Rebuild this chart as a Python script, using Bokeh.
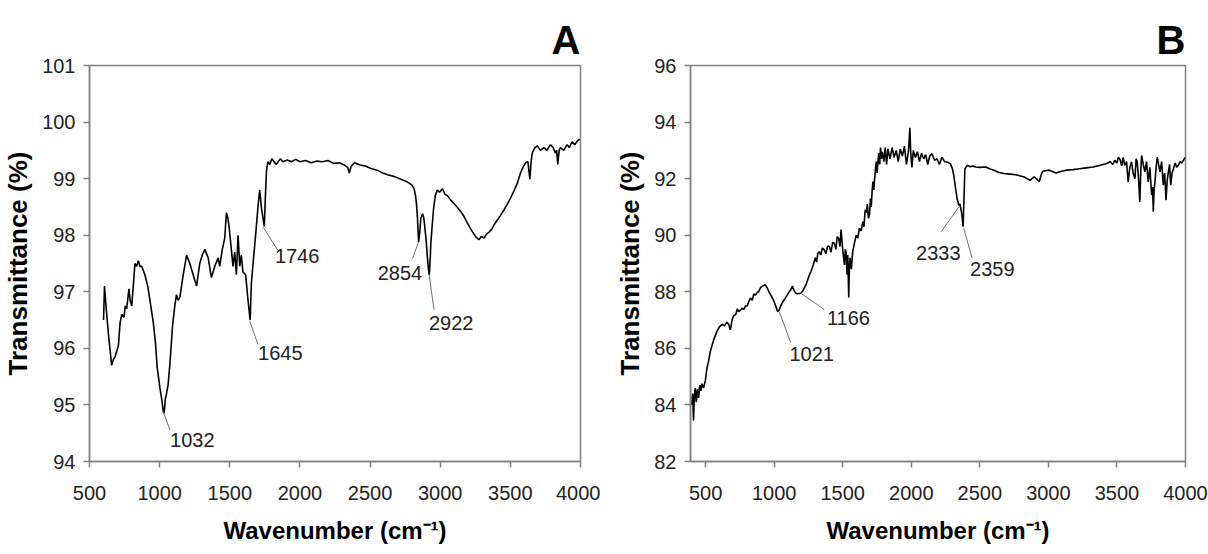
from bokeh.plotting import figure
from bokeh.layouts import row
from bokeh.models import FixedTicker, Range1d, ColumnDataSource
from bokeh.core.properties import value
from bokeh.embed import file_html
from bokeh.resources import INLINE

# ---------------- Panel A data ----------------
a_wavenumber = [600, 607, 616, 635, 658, 670, 682, 694, 706, 718, 730, 746, 755, 765, 781, 790, 801, 812,
                824, 836, 848, 860, 872, 895, 915, 931, 955, 970, 983, 1002, 1015, 1026, 1032, 1040, 1049,
                1060, 1073, 1092, 1108, 1120, 1132, 1144, 1168, 1192, 1215, 1239, 1263, 1286, 1304, 1322,
                1346, 1369, 1393, 1417, 1428, 1447, 1464, 1476, 1486, 1495, 1511, 1523, 1535, 1547, 1559,
                1571, 1582, 1594, 1613, 1630, 1645, 1654, 1666, 1684, 1701, 1713, 1725, 1737, 1746, 1754,
                1762, 1772, 1784, 1800, 1831, 1860, 1879, 1910, 1938, 1970, 2000, 2040, 2080, 2120, 2160,
                2200, 2240, 2280, 2317, 2340, 2352, 2365, 2388, 2430, 2470, 2506, 2550, 2590, 2625, 2670,
                2720, 2750, 2779, 2800, 2814, 2824, 2831, 2838, 2846, 2854, 2862, 2874, 2882, 2890, 2900,
                2909, 2916, 2922, 2928, 2933, 2942, 2952, 2965, 2980, 2995, 3016, 3035, 3051, 3075, 3098,
                3120, 3146, 3170, 3193, 3215, 3240, 3258, 3276, 3294, 3312, 3330, 3347, 3365, 3383, 3405,
                3430, 3455, 3478, 3500, 3525, 3550, 3572, 3590, 3608, 3625, 3639, 3648, 3656, 3675, 3691,
                3715, 3738, 3760, 3786, 3805, 3821, 3830, 3838, 3848, 3857, 3880, 3904, 3920, 3940, 3960,
                3975, 3994]
a_transmittance = [96.5, 97.1, 96.8, 96.25, 95.7, 95.8, 95.85, 95.95, 96.05, 96.45, 96.6, 96.55, 96.75, 96.7,
                   97.05, 96.85, 96.75, 97.1, 97.5, 97.45, 97.55, 97.45, 97.45, 97.3, 97.1, 96.85, 96.45,
                   96.1, 95.65, 95.3, 95.1, 94.88, 94.85, 95.1, 95.2, 95.35, 95.72, 96.4, 96.75, 96.95,
                   96.85, 96.9, 97.3, 97.65, 97.5, 97.3, 97.1, 97.5, 97.65, 97.75, 97.6, 97.25, 97.45,
                   97.6, 97.45, 97.75, 97.95, 98.4, 98.3, 98.15, 97.75, 97.45, 97.7, 97.3, 98.0, 97.45,
                   97.65, 97.35, 97.3, 96.85, 96.5, 97.15, 97.5, 98.0, 98.5, 98.8, 98.5, 98.3, 98.15,
                   98.7, 99.15, 99.3, 99.25, 99.35, 99.25, 99.35, 99.3, 99.33, 99.3, 99.34, 99.3, 99.32,
                   99.28, 99.31, 99.3, 99.32, 99.27, 99.28, 99.24, 99.2, 99.1, 99.22, 99.28, 99.24, 99.22,
                   99.18, 99.15, 99.1, 99.07, 99.04, 98.99, 98.96, 98.92, 98.88, 98.82, 98.7, 98.55, 98.3,
                   97.88, 98.05, 98.3, 98.38, 98.32, 98.15, 97.9, 97.6, 97.4, 97.3, 97.55, 97.85, 98.15,
                   98.45, 98.7, 98.8, 98.76, 98.82, 98.72, 98.7, 98.62, 98.56, 98.5, 98.42, 98.33, 98.22,
                   98.12, 98.02, 97.96, 97.92, 97.98, 97.95, 98.02, 98.05, 98.1, 98.18, 98.26, 98.35,
                   98.45, 98.55, 98.65, 98.78, 98.92, 99.1, 99.2, 99.28, 99.3, 98.99, 99.3, 99.45, 99.55,
                   99.58, 99.5, 99.55, 99.5, 99.6, 99.55, 99.45, 99.5, 99.25, 99.5, 99.55, 99.5, 99.6,
                   99.55, 99.65, 99.6, 99.66, 99.7]
a_x_ticks = [500, 1000, 1500, 2000, 2500, 3000, 3500, 4000]
a_y_ticks = [94, 95, 96, 97, 98, 99, 100, 101]
a_peak_labels = ["1032", "1645", "1746", "2854", "2922"]
a_peak_x = [1026, 1642, 1739, 2845, 2921]
a_peak_y = [94.88, 96.48, 98.14, 97.88, 97.30]
a_lead_x = [1073, 1701, 1843, 2803, 2956]
a_lead_y = [94.56, 96.07, 97.73, 97.59, 96.68]
a_text_x = [1233, 1860, 1980, 2713, 3078]
a_text_y = [94.38, 95.91, 97.63, 97.33, 96.45]

# ---------------- Panel B data ----------------
b_wavenumber = [400, 406, 412, 418, 424, 432, 440, 449, 458, 466, 473, 485, 498, 510, 522, 535, 547, 559,
                571, 583, 600, 620, 638, 656, 668, 681, 693, 705, 720, 732, 742, 754, 766, 780, 791, 803,
                815, 828, 840, 852, 864, 876, 888, 901, 915, 933, 948, 962, 980, 999, 1015, 1025, 1036,
                1048, 1060, 1078, 1097, 1110, 1121, 1133, 1145, 1158, 1170, 1195, 1212, 1232, 1250, 1268,
                1285, 1300, 1310, 1318, 1329, 1340, 1352, 1366, 1378, 1390, 1403, 1415, 1427, 1439, 1450,
                1460, 1471, 1480, 1488, 1494, 1500, 1507, 1513, 1519, 1525, 1532, 1537, 1544, 1549, 1554,
                1563, 1573, 1585, 1598, 1610, 1622, 1635, 1647, 1655, 1664, 1672, 1680, 1688, 1696, 1702,
                1708, 1715, 1720, 1727, 1733, 1740, 1745, 1751, 1757, 1763, 1770, 1776, 1782, 1790, 1800,
                1810, 1820, 1830, 1845, 1860, 1875, 1890, 1905, 1920, 1935, 1950, 1965, 1980, 1990, 1996,
                2005, 2015, 2030, 2045, 2060, 2075, 2090, 2105, 2120, 2135, 2151, 2170, 2188, 2205, 2224,
                2243, 2261, 2285, 2300, 2310, 2322, 2334, 2347, 2354, 2366, 2372, 2378, 2384, 2391, 2408,
                2430, 2450, 2469, 2500, 2543, 2570, 2604, 2640, 2677, 2720, 2762, 2790, 2824, 2845, 2865,
                2880, 2897, 2915, 2934, 2945, 2958, 2980, 3007, 3030, 3056, 3090, 3129, 3180, 3227, 3275,
                3325, 3375, 3423, 3450, 3470, 3484, 3500, 3510, 3521, 3535, 3545, 3557, 3570, 3582, 3594,
                3606, 3618, 3631, 3640, 3648, 3656, 3667, 3674, 3680, 3692, 3704, 3716, 3728, 3740, 3753,
                3760, 3765, 3771, 3777, 3786, 3794, 3804, 3814, 3826, 3838, 3848, 3858, 3866, 3875, 3884,
                3892, 3902, 3912, 3925, 3936, 3948, 3960, 3972, 3985, 3998]
b_transmittance = [84.0, 84.4, 83.45, 84.3, 84.6, 84.1, 84.55, 84.25, 84.7, 84.5, 84.75, 84.6, 84.85, 85.3,
                   85.55, 85.9, 86.1, 86.3, 86.45, 86.6, 86.75, 86.85, 86.8, 86.92, 86.85, 86.65, 87.0,
                   87.15, 87.2, 87.4, 87.3, 87.35, 87.42, 87.38, 87.5, 87.5, 87.65, 87.78, 87.7, 87.92,
                   87.88, 87.98, 88.0, 88.15, 88.2, 88.25, 88.15, 88.0, 87.85, 87.66, 87.45, 87.3, 87.35,
                   87.5, 87.62, 87.75, 87.9, 88.0, 88.07, 88.2, 88.05, 87.95, 87.93, 87.95, 88.05, 88.25,
                   88.5, 88.72, 88.95, 89.2, 89.05, 89.35, 89.42, 89.3, 89.55, 89.48, 89.35, 89.62, 89.6,
                   89.4, 89.75, 89.72, 89.5, 89.95, 89.88, 89.6, 90.2, 89.85, 89.5, 89.2, 88.95, 89.5,
                   89.4, 88.6, 89.3, 87.8, 88.9, 89.2, 88.8, 89.42, 89.7, 90.0, 89.9, 90.25, 90.15, 90.48,
                   90.3, 90.9, 90.8, 91.1, 90.6, 90.75, 91.3, 91.0, 91.6, 91.9, 91.6, 92.0, 92.4, 92.6,
                   92.2, 92.6, 92.9, 92.5, 93.1, 92.7, 92.95, 92.6, 93.1, 92.5, 93.05, 92.7, 93.1, 92.75,
                   93.0, 92.6, 93.05, 92.8, 93.15, 92.5, 93.0, 93.8, 92.9, 92.4, 93.0, 92.75, 92.95, 92.6,
                   92.9, 92.7, 92.85, 92.5, 92.8, 92.88, 92.65, 92.7, 92.5, 92.76, 92.6, 92.59, 92.53,
                   92.35, 92.12, 91.7, 91.3, 91.05, 91.12, 90.83, 90.6, 90.3, 91.2, 92.35, 92.47, 92.42,
                   92.45, 92.41, 92.4, 92.41, 92.35, 92.3, 92.22, 92.18, 92.16, 92.14, 92.1, 92.06, 92.0,
                   91.94, 92.0, 92.06, 91.98, 91.9, 92.1, 92.26, 92.28, 92.3, 92.25, 92.2, 92.25, 92.3,
                   92.32, 92.35, 92.38, 92.41, 92.47, 92.53, 92.6, 92.5, 92.65, 92.55, 92.75, 92.7, 92.45,
                   92.75, 92.47, 92.6, 91.88, 92.4, 92.59, 92.2, 92.0, 92.7, 92.59, 92.1, 91.18, 92.3,
                   92.82, 92.5, 92.24, 92.6, 91.88, 92.4, 91.42, 91.7, 90.83, 91.6, 91.88, 92.4, 92.76,
                   92.5, 92.24, 92.6, 91.77, 92.2, 91.24, 91.9, 92.24, 92.5, 91.77, 92.2, 92.35, 92.55,
                   92.4, 92.47, 92.6, 92.55, 92.65, 92.75]
b_x_ticks = [500, 1000, 1500, 2000, 2500, 3000, 3500, 4000]
b_y_ticks = [82, 84, 86, 88, 90, 92, 94, 96]
b_peak_labels = ["1021", "1166", "2333", "2359"]
b_peak_x = [1036, 1195, 2347, 2383]
b_peak_y = [87.31, 87.95, 91.0, 90.24]
b_lead_x = [1121, 1366, 2219, 2444]
b_lead_y = [86.2, 87.37, 90.13, 89.19]
b_text_x = [1274, 1542, 2197, 2591]
b_text_y = [85.79, 87.08, 89.36, 88.81]

TICK_FONT = "Liberation Sans"
BOLD_FONT = "Liberation Sans"
GRAY = "#808080"


def make_panel(letter, wn, tr, x_range, y_range, xticks, yticks,
               labels, px, py, lx, ly, tx, ty,
               width, left, right, top, bottom):
    p = figure(width=width, height=554, x_range=Range1d(*x_range), y_range=Range1d(*y_range),
               output_backend="svg", toolbar_location=None,
               min_border_left=left, min_border_right=right,
               min_border_top=top, min_border_bottom=bottom)
    p.background_fill_color = "white"
    p.border_fill_color = "white"
    p.grid.visible = False
    p.outline_line_color = GRAY
    p.outline_line_width = 1.5

    p.title.text = letter
    p.title.align = "right"
    p.title.text_font = BOLD_FONT
    p.title.text_font_size = "40px"
    p.title.text_font_style = "bold"
    p.title.text_color = "black"
    p.title.standoff = 8

    for ax in (p.xaxis[0], p.yaxis[0]):
        ax.axis_line_color = GRAY
        ax.axis_line_width = 1.5
        ax.major_tick_line_color = GRAY
        ax.major_tick_line_width = 1.5
        ax.major_tick_in = 0
        ax.major_tick_out = 6
        ax.minor_tick_line_color = None
        ax.major_label_text_font = TICK_FONT
        ax.major_label_text_font_size = "20px"
        ax.major_label_text_color = "#222222"
        ax.axis_label_text_font = BOLD_FONT
        ax.axis_label_text_font_style = "bold"
        ax.axis_label_text_color = "black"

    p.xaxis.ticker = FixedTicker(ticks=xticks)
    p.yaxis.ticker = FixedTicker(ticks=yticks)
    p.xaxis.major_label_standoff = 18
    p.yaxis.major_label_standoff = 8
    p.xaxis.axis_label = "Wavenumber (cm\u207b\u00b9)"
    p.xaxis.axis_label_text_font_size = "24px"
    p.xaxis.axis_label_standoff = 14
    p.yaxis.axis_label = "Transmittance (%)"
    p.yaxis.axis_label_text_font_size = "26px"
    p.yaxis.axis_label_standoff = 6

    p.line(wn, tr, line_color="black", line_width=1.6)

    src = ColumnDataSource(dict(px=px, py=py, lx=lx, ly=ly, tx=tx, ty=ty, label=labels))
    p.segment(x0="px", y0="py", x1="lx", y1="ly", source=src, line_color="#6e6e6e", line_width=1)
    p.text(x="tx", y="ty", text="label", source=src, text_font=value(TICK_FONT),
           text_font_size="20px", text_align="center", text_baseline="middle", text_color="#222222")
    return p


pa = make_panel("A", a_wavenumber, a_transmittance, (500, 4000), (94, 101), a_x_ticks, a_y_ticks,
                a_peak_labels, a_peak_x, a_peak_y, a_lead_x, a_lead_y, a_text_x, a_text_y,
                width=600, left=88, right=20, top=65, bottom=89)
pb = make_panel("B", b_wavenumber, b_transmittance, (390, 4000), (82, 96), b_x_ticks, b_y_ticks,
                b_peak_labels, b_peak_x, b_peak_y, b_lead_x, b_lead_y, b_text_x, b_text_y,
                width=608, left=90, right=23, top=63, bottom=93)

layout = row(pa, pb, spacing=0)
open("out.html", "w").write(file_html(layout, INLINE))
